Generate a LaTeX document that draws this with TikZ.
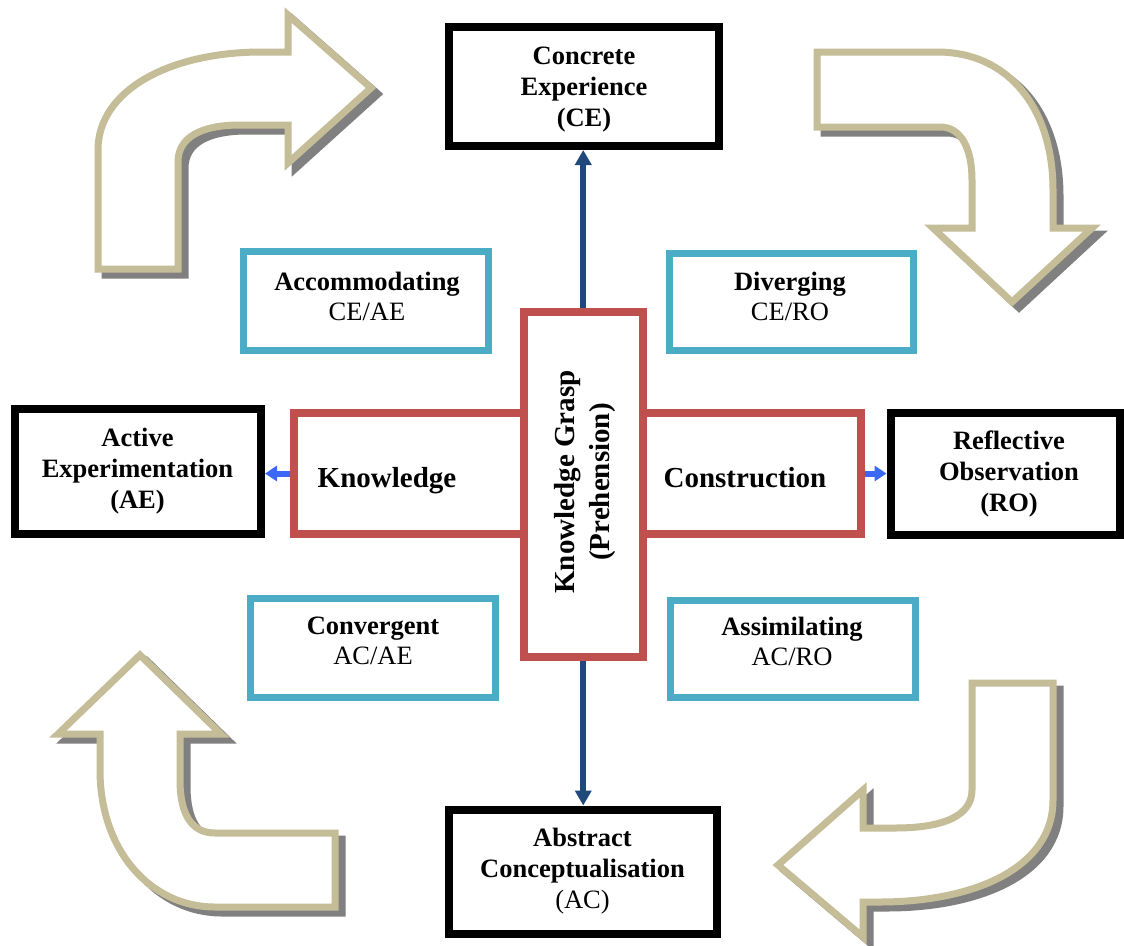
\documentclass[tikz,border=0pt]{standalone}
\usepackage{fontspec}
\setmainfont{Liberation Serif}
\usetikzlibrary{arrows.meta}

\definecolor{kolbred}{HTML}{C0504D}
\definecolor{kolbcyan}{HTML}{4BACC6}
\definecolor{kolbnavy}{HTML}{1F497D}
\definecolor{kolbblue}{RGB}{59,105,245}
\definecolor{kolbtan}{HTML}{C4BD97}
\definecolor{kolbshadow}{HTML}{808080}

\tikzset{
  stagebox/.style={draw=black, line width=8pt, fill=white, inner sep=0pt},
  stylebox/.style={draw=kolbcyan, line width=7pt, fill=white, inner sep=0pt},
  graspbox/.style={draw=kolbred, line width=8pt, fill=white, inner sep=0pt},
  stagetext/.style={font=\bfseries\fontsize{26.5}{31}\selectfont, align=center, inner sep=0pt},
  styletext/.style={font=\fontsize{26.5}{30}\selectfont, align=center, inner sep=0pt},
  grasptext/.style={font=\bfseries\fontsize{29}{35}\selectfont, align=center, inner sep=0pt},
  cyclearrow/.style={draw=kolbtan, fill=white, line width=7pt, line join=miter, miter limit=10},
  cycleshadow/.style={draw=kolbshadow, fill=kolbshadow, line width=7pt, line join=miter, miter limit=10, shift={(7,6)}},
  axisarrow/.style={draw=kolbnavy, line width=6pt, -{Triangle[width=16pt,length=15pt]}},
  linkarrow/.style={draw=kolbblue, line width=6pt, -{Triangle[width=15pt,length=12pt]}},
}

\begin{document}
\begin{tikzpicture}[x=1pt, y=-1pt]
\useasboundingbox[fill=white] (0,0) rectangle (1124,945);

% ---- the four curved cycle arrows (shadow first, then outline) ----
\def\arrowNW{(98,269) -- (98,150) .. controls (98,90) and (170,52) .. (262,52) -- (288,52) -- (288,15) -- (371,88) -- (288,163) -- (288,125) -- (240,125) .. controls (200,125) and (178,138) .. (178,162) -- (178,269) -- cycle}
\def\arrowNE{(817,52) -- (937,52) .. controls (1010,52) and (1053,110) .. (1053,190) -- (1053,228) -- (1092,228) -- (1012,302) -- (933,228) -- (972,228) -- (972,180) .. controls (972,150) and (962,127) .. (940,127) -- (817,127) -- cycle}
\def\arrowSW{(100,734) -- (58,734) -- (140,655) -- (221,734) -- (180,734) -- (180,780) .. controls (180,815) and (192,833) .. (215,833) -- (335,833) -- (335,907) -- (215,907) .. controls (150,907) and (100,850) .. (100,770) -- cycle}
\def\arrowSE{(972,683) -- (1053,683) -- (1053,800) .. controls (1053,870) and (970,902) .. (880,902) -- (863,902) -- (863,937) -- (778,865) -- (863,790) -- (863,828) -- (895,828) .. controls (945,828) and (972,815) .. (972,790) -- cycle}

\path[cycleshadow] \arrowNW;
\path[cycleshadow] \arrowNE;
\path[cycleshadow] \arrowSW;
\path[cycleshadow] \arrowSE;
\path[cyclearrow] \arrowNW;
\path[cyclearrow] \arrowNE;
\path[cyclearrow] \arrowSW;
\path[cyclearrow] \arrowSE;

% ---- central cross: knowledge, construction and grasp ----
\node[graspbox, minimum width=230.5pt, minimum height=121pt] (know) at (408.75,473.5) {};
\node[graspbox, minimum width=218.5pt, minimum height=121pt] (constr) at (751.75,473.5) {};
\node[graspbox, minimum width=118.5pt, minimum height=345.5pt] (grasp) at (583.25,484.25) {};
\node[grasptext, anchor=base] (knowtext) at (387,487) {Knowledge};
\node[grasptext, anchor=base] (constrtext) at (745,487) {Construction};
\node[grasptext, rotate=90] (grasptext) at (585,482) {Knowledge Grasp\\(Prehension)};

% ---- learning styles ----
\node[stylebox, minimum width=245pt, minimum height=99pt] (acc) at (365.5,300.5) {};
\node[stylebox, minimum width=244pt, minimum height=97pt] (div) at (791,301.5) {};
\node[stylebox, minimum width=245pt, minimum height=99pt] (con) at (372.5,647.5) {};
\node[stylebox, minimum width=245.5pt, minimum height=97pt] (ass) at (792.75,648.5) {};
\node[styletext] (acctext) at (367,296) {\textbf{Accommodating}\\CE/AE};
\node[styletext] (divtext) at (790,296) {\textbf{Diverging}\\CE/RO};
\node[styletext] (context) at (373,641) {\textbf{Convergent}\\AC/AE};
\node[styletext] (asstext) at (792,641) {\textbf{Assimilating}\\AC/RO};

% ---- the four stages of the cycle ----
\node[stagebox, minimum width=270pt, minimum height=119pt] (ce) at (584,86.5) {};
\node[stagebox, minimum width=246pt, minimum height=125pt] (ae) at (138,471.5) {};
\node[stagebox, minimum width=229pt, minimum height=122pt] (ro) at (1005,474) {};
\node[stagebox, minimum width=268pt, minimum height=124.5pt] (ac) at (582.5,871.75) {};
\node[stagetext] (cetext) at (584,90) {Concrete\\Experience\\(CE)};
\node[stagetext] (aetext) at (137.5,471) {Active\\Experimentation\\(AE)};
\node[stagetext] (rotext) at (1009,474) {Reflective\\Observation\\(RO)};
\node[stagetext] (actext) at (582.5,871) {Abstract\\Conceptualisation\\\mdseries(AC)};

% ---- connectors ----
\draw[axisarrow] (grasp.north) -- (grasp.north |- ce.south);
\draw[axisarrow] (grasp.south) -- (grasp.south |- ac.north);
\draw[linkarrow] (know.west) -- (know.west -| ae.east);
\draw[linkarrow] (constr.east) -- (constr.east -| ro.west);
\end{tikzpicture}
\end{document}
